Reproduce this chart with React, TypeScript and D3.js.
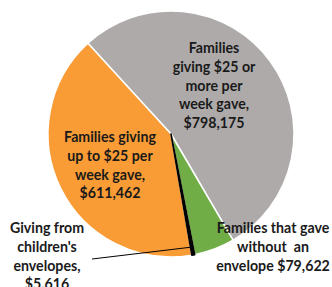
import * as d3 from 'd3';

// slices in clockwise order, starting at the gray one
const NAMES = [
  'Families giving $25 or more per week gave',
  'Families that gave without an envelope',
  "Giving from children's envelopes",
  'Families giving up to $25 per week gave',
];
const VALUES = [798175, 79622, 5616, 611462];
const COLORS = ['#aeaaaa', '#70ad47', '#000000', '#fa9c35'];
const LABEL_LINES = [
  ['Families', 'giving $25 or', 'more per', 'week gave,', '$798,175'],
  ['Families that gave', 'without  an', 'envelope $79,622'],
  ['Giving from', "children's", 'envelopes,', '$5.616'],
  ['Families giving', 'up to $25 per', 'week gave,', '$611,462'],
];
// label centres (first line middle)
const LABEL_POS: [number, number][] = [
  [214, 47],
  [273, 227],
  [47, 227],
  [110, 136],
];

const W = 332;
const H = 287;
const CX = 171;
const CY = 134;
const R = 123;
const LINE_H = 18.8;

export default function App() {
  const start = (-42.5 * Math.PI) / 180;
  const pie = d3
    .pie<number>()
    .sort(null)
    .startAngle(start)
    .endAngle(start + 2 * Math.PI);
  const arcs = pie(VALUES);
  const arc = d3.arc<d3.PieArcDatum<number>>().innerRadius(0).outerRadius(R);

  // draw the tiny black slice last so it sits on top
  const order = [0, 1, 3, 2];

  // leader line for the small slice
  const small = arcs[2];
  const mid = (small.startAngle + small.endAngle) / 2;
  const lx = CX + Math.sin(mid) * (R - 8);
  const ly = CY - Math.cos(mid) * (R - 8);

  return (
    <svg
      width={W}
      height={H}
      style={{ position: 'absolute', left: 0, top: 0, background: '#fff' }}
      fontFamily="Lato, 'Open Sans', sans-serif"
    >
      <g transform={`translate(${CX},${CY})`}>
        {order.map((i) => (
          <path
            key={NAMES[i]}
            d={arc(arcs[i]) ?? ''}
            fill={COLORS[i]}
            stroke={i === 2 ? '#000' : '#fff'}
            strokeWidth={i === 2 ? 1.6 : 1.5}
            strokeLinejoin="round"
          />
        ))}
      </g>
      <line x1={92} y1={259} x2={lx} y2={ly} stroke="#000" strokeWidth={1} />
      {LABEL_LINES.map((lines, i) => (
        <text
          key={NAMES[i]}
          x={LABEL_POS[i][0]}
          y={LABEL_POS[i][1]}
          textAnchor="middle"
          dominantBaseline="central"
          fontSize={14.2}
          fontWeight="bold"
          fill="#1a1a1a"
        >
          {lines.map((l, j) => (
            <tspan key={j} x={LABEL_POS[i][0]} dy={j === 0 ? 0 : LINE_H} style={{ whiteSpace: 'pre' }}>
              {l}
            </tspan>
          ))}
        </text>
      ))}
    </svg>
  );
}
